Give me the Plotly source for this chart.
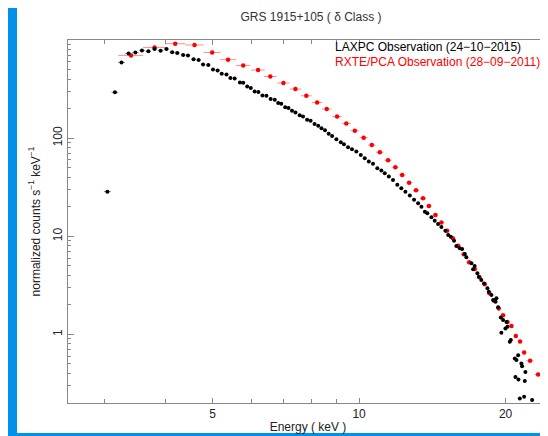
import plotly.graph_objects as go

# LAXPC observation (24-10-2015): energy (keV) and normalized counts s^-1 keV^-1
laxpc_energy = [3.04, 3.15, 3.25, 3.36, 3.47, 3.58, 3.69, 3.80, 3.91, 4.02,
                4.13, 4.23, 4.35, 4.45, 4.57, 4.68, 4.78, 4.90, 5.01, 5.12,
                5.22, 5.34, 5.44, 5.55, 5.69, 5.78, 5.89, 5.99, 6.10, 6.21,
                6.33, 6.45, 6.58, 6.71, 6.82, 6.92, 7.05, 7.16, 7.28, 7.40,
                7.55, 7.67, 7.82, 7.95, 8.10, 8.24, 8.37, 8.51, 8.66, 8.80,
                8.98, 9.17, 9.31, 9.49, 9.67, 9.87, 10.08, 10.27, 10.47, 10.68,
                10.90, 11.11, 11.29, 11.51, 11.74, 11.98, 12.21, 12.45, 12.71, 12.97,
                13.22, 13.43, 13.65, 13.81, 14.08, 14.30, 14.53, 14.76, 15.04, 15.24,
                15.43, 15.67, 15.84, 16.10, 16.28, 16.49, 16.61, 17.01, 17.15, 17.27,
                17.50, 17.62, 17.83, 18.06, 18.35, 18.47, 18.70, 18.85, 19.07, 19.15,
                19.30, 19.55, 19.60, 19.76, 19.98, 20.08, 20.17, 20.40, 20.50, 20.89,
                20.95, 21.05, 21.22, 21.25, 21.39, 21.55, 21.62, 21.83, 21.90, 21.96,
                22.67]
laxpc_flux = [28.5, 293, 591, 728, 747, 783, 769, 812, 778, 809,
              751, 739, 703, 697, 637, 625, 564, 556, 500, 490,
              453, 445, 409, 405, 369, 366, 336, 324, 299, 295,
              272, 270, 250, 246, 228, 224, 207, 203, 190, 183,
              171, 166, 154, 150, 139, 134, 126, 120, 111, 105,
              97.2, 90.6, 86.5, 80.9, 77.2, 73.0, 67.5, 62.5, 57.7, 54.7,
              49.4, 46.7, 43.9, 40.6, 37.5, 33.4, 30.9, 28.5, 26.0, 23.5,
              21.7, 20.0, 17.8, 17.2, 15.6, 14.4, 13.3, 12.4, 11.4, 10.3,
              9.91, 9.02, 7.96, 7.54, 7.42, 6.60, 6.11, 5.30, 4.61, 4.98,
              4.19, 3.87, 3.58, 3.31, 2.95, 2.72, 2.52, 2.24, 2.15, 2.33,
              1.89, 1.49, 1.04, 1.40, 1.15, 1.34, 1.20, 0.840, 0.875, 0.569,
              0.369, 0.547, 0.615, 0.347, 0.222, 0.506, 0.475, 0.231, 0.336, 0.415,
              0.214]
laxpc_energy_err = [0.05] * len(laxpc_energy)

# RXTE/PCA observation (28-09-2011)
pca_energy = [3.40, 3.80, 4.19, 4.59, 4.99, 5.38, 5.78, 6.20, 6.57, 6.99,
              7.40, 7.79, 8.20, 8.58, 9.01, 9.41, 9.80, 10.22, 10.62, 11.03,
              11.47, 11.87, 12.26, 12.67, 13.09, 13.53, 13.91, 14.35, 14.76, 15.16,
              15.58, 15.97, 16.41, 16.83, 17.29, 17.67, 18.12, 18.52, 18.94, 19.36,
              19.76, 20.17, 20.56, 20.99, 21.41, 21.83, 22.45, 23.32, 24.07]
pca_flux = [697, 840, 917, 889, 747, 630, 551, 494, 425, 364,
            316, 270, 231, 198, 166, 141, 119, 101, 85.0, 71.9,
            59.6, 50.6, 42.2, 35.2, 29.5, 24.4, 20.4, 16.5, 13.8, 11.4,
            9.54, 8.02, 6.55, 5.43, 4.64, 3.82, 3.24, 2.62, 2.20, 1.84,
            1.57, 1.34, 1.22, 0.961, 0.848, 0.655, 0.538, 0.391, 0.281]
pca_energy_err = [0.2] * 46 + [0.4, 0.4, 0.4]

x_major = [5, 10, 20]
x_major_text = ["5", "10", "20"]
x_minor = [3, 4, 6, 7, 8, 9]
y_major = [1, 10, 100]
y_major_text = ["1", "10", "100"]
y_minor = [m * d for d in (0.1, 1, 10, 100) for m in range(2, 10)]

title_text = "GRS 1915+105 ( \u03b4 Class )"
laxpc_label = "LAXPC Observation (24\u221210\u22122015)"
pca_label = "RXTE/PCA Observation (28\u221209\u22122011)"

# the page places the figure 8 px in from the window corner
W, H = 540, 428
L, R, T, B = 60, 0, 32, 33
FONT = "Liberation Sans, Arial, Helvetica, sans-serif"
pw = W - L - R
ph = H - T - B
X_RANGE = [0.40192, 1.38810]
Y_RANGE = [-0.69897, 3.0]

fig = go.Figure()
fig.add_trace(go.Scatter(
    x=pca_energy, y=pca_flux, mode="markers",
    marker=dict(color="#ff0000", size=4.5),
    error_x=dict(type="data", array=pca_energy_err, color="#ff8c8c",
                 thickness=1, width=0),
    showlegend=False))
fig.add_trace(go.Scatter(
    x=laxpc_energy, y=laxpc_flux, mode="markers",
    marker=dict(color="#000000", size=4),
    error_x=dict(type="data", array=laxpc_energy_err, color="#808080",
                 thickness=1, width=0),
    showlegend=False))

# white page area (reference is framed by a blue border on left/top/bottom)
fig.add_shape(type="rect", xref="paper", yref="paper",
              x0=(9 - L) / pw, x1=1.05,
              y0=-(425 - (H - B)) / ph, y1=(H - B + 4) / ph,
              fillcolor="white", line=dict(width=0), layer="below")

fig.add_annotation(text=laxpc_label, xref="paper", yref="paper",
                   x=265 / pw, y=356 / ph, xanchor="left", yanchor="middle",
                   showarrow=False, font=dict(color="#000000", size=12, family=FONT))
fig.add_annotation(text=pca_label, xref="paper", yref="paper",
                   x=265 / pw, y=341 / ph, xanchor="left", yanchor="middle",
                   showarrow=False, font=dict(color="#ff0000", size=12, family=FONT))

fig.update_layout(
    width=W, height=H,
    margin=dict(l=L, r=R, t=T, b=B, pad=0),
    paper_bgcolor="#0091ea", plot_bgcolor="white",
    font=dict(family=FONT, size=12, color="#222222"),
    title=dict(text=title_text, x=303 / W, xref="container", xanchor="center",
               y=1 - 9 / H, yref="container", yanchor="middle",
               font=dict(size=12, color="#333333", family=FONT)),
    xaxis=dict(type="log", range=X_RANGE,
               showgrid=False, zeroline=False,
               showline=True, linecolor="#888888", linewidth=1, mirror="ticks",
               ticks="inside", ticklen=5, tickcolor="#888888",
               tickvals=x_major, ticktext=x_major_text,
               tickfont=dict(size=12, color="#222222"),
               minor=dict(tickvals=x_minor, ticks="inside", ticklen=4,
                          tickcolor="#888888", showgrid=False),
               title=dict(text="Energy ( keV )", standoff=2,
                          font=dict(size=12, color="#222222"))),
    yaxis=dict(type="log", range=Y_RANGE,
               showgrid=False, zeroline=False,
               showline=True, linecolor="#888888", linewidth=1, mirror=False,
               ticks="inside", ticklen=6, tickcolor="#888888",
               tickvals=y_major, ticktext=y_major_text, tickangle=-90,
               tickfont=dict(size=12, color="#222222"),
               minor=dict(tickvals=y_minor, ticks="inside", ticklen=3,
                          tickcolor="#888888", showgrid=False),
               title=dict(text="normalized counts s<sup>\u22121</sup> keV<sup>\u22121</sup>",
                          standoff=8, font=dict(size=12, color="#222222"))),
)

fig.write_html("out.html")
